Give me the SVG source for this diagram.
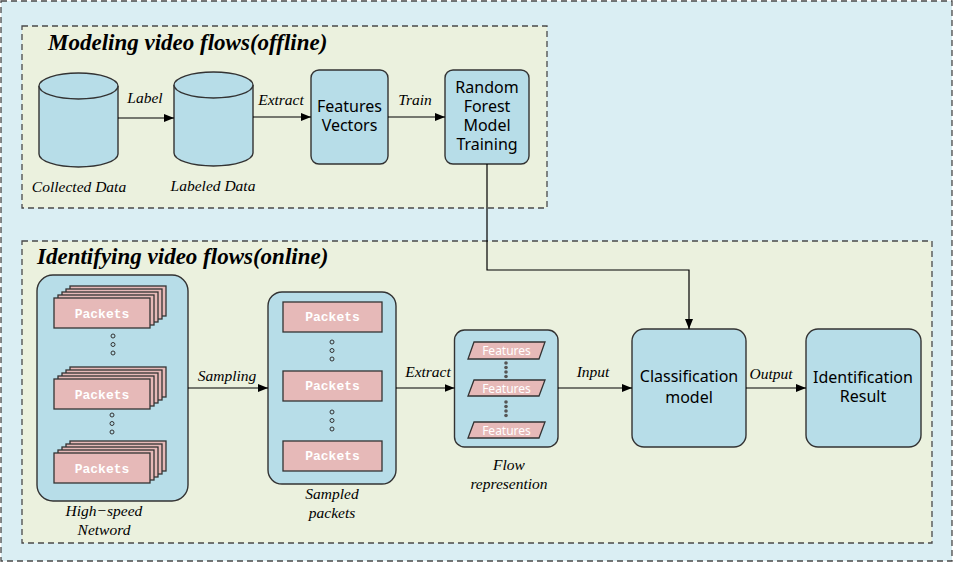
<svg xmlns="http://www.w3.org/2000/svg" width="954" height="563" viewBox="0 0 954 563">
<defs>
<style>
.frame{fill:#DAEEF3;stroke:#4a4a4a;stroke-width:1.3;stroke-dasharray:6,4}
.panel{fill:#EBF1DE;stroke:#4a4a4a;stroke-width:1.3;stroke-dasharray:6,4}
.node{fill:#B7DDE8;stroke:#333;stroke-width:1.4}
.pk{fill:#E6B9B8;stroke:#333;stroke-width:1.3}
.title{font-family:"Liberation Serif",serif;font-weight:bold;font-style:italic;fill:#000}
.lab{font-family:"Liberation Serif",serif;font-style:italic;font-size:15.5px;fill:#000;text-anchor:middle}
.bt{font-family:"Noto Sans","Open Sans",sans-serif;font-size:16px;fill:#000;text-anchor:middle}
.pt{font-family:"Liberation Mono",monospace;font-weight:bold;font-size:13px;fill:#fff;text-anchor:middle}
.ft{font-family:"Noto Sans","Open Sans",sans-serif;font-size:12px;fill:#fff;text-anchor:middle}
.conn{fill:none;stroke:#000;stroke-width:1.2}
.hd{fill:none;stroke:#333;stroke-width:1}
.sd{fill:#555}
</style>
<marker id="arr" viewBox="0 0 10 10" refX="10" refY="5" markerWidth="10" markerHeight="10" markerUnits="userSpaceOnUse" orient="auto">
<path d="M0,1 L10,5 L0,9 Z" fill="#000"/>
</marker>
<g id="stack">
<rect class="pk" x="16" y="-12" width="96" height="30"/>
<rect class="pk" x="12" y="-9" width="96" height="30"/>
<rect class="pk" x="8" y="-6" width="96" height="30"/>
<rect class="pk" x="4" y="-3" width="96" height="30"/>
<rect class="pk" x="0" y="0" width="96" height="30"/>
<text class="pt" x="48" y="20">Packets</text>
</g>
</defs>

<rect class="frame" x="1" y="1" width="951" height="560"/>

<g id="offline-panel">
<rect class="panel" x="22" y="26" width="525" height="182"/>
<text class="title" x="48" y="50" font-size="23">Modeling video flows(offline)</text>
</g>

<g id="online-panel">
<rect class="panel" x="22" y="241" width="910" height="302"/>
<text class="title" x="37" y="264" font-size="23">Identifying video flows(online)</text>
</g>

<g id="collected-data">
<path class="node" d="M39,86 L39,154 A39.5,13 0 0 0 118,154 L118,86"/>
<ellipse class="node" cx="78.5" cy="86" rx="39.5" ry="13"/>
<text class="lab" x="79" y="192">Collected Data</text>
</g>

<g id="labeled-data">
<path class="node" d="M174,85 L174,153 A39.5,13 0 0 0 253,153 L253,85"/>
<ellipse class="node" cx="213.5" cy="85" rx="39.5" ry="13"/>
<text class="lab" x="213" y="191">Labeled Data</text>
</g>

<g id="features-vectors">
<rect class="node" x="311" y="70" width="77" height="94" rx="8"/>
<text class="bt" x="349.5" y="112">Features</text>
<text class="bt" x="349.5" y="131">Vectors</text>
</g>

<g id="rf-training">
<rect class="node" x="445" y="70" width="84" height="94" rx="8"/>
<text class="bt" x="487" y="93">Random</text>
<text class="bt" x="487" y="112">Forest</text>
<text class="bt" x="487" y="131">Model</text>
<text class="bt" x="487" y="150">Training</text>
</g>

<g id="high-speed-network">
<rect class="node" x="37" y="275" width="151" height="226" rx="16"/>
<use href="#stack" x="54" y="298"/>
<use href="#stack" x="54" y="379"/>
<use href="#stack" x="54" y="453"/>
<circle class="hd" cx="113" cy="336" r="2"/>
<circle class="hd" cx="113" cy="344.5" r="2"/>
<circle class="hd" cx="113" cy="353" r="2"/>
<circle class="hd" cx="112" cy="415" r="2"/>
<circle class="hd" cx="112" cy="423.5" r="2"/>
<circle class="hd" cx="112" cy="432" r="2"/>
<text class="lab" x="104" y="516">High−speed</text>
<text class="lab" x="104" y="535">Netword</text>
</g>

<g id="sampled-packets">
<rect class="node" x="268" y="292" width="128" height="192" rx="14"/>
<rect class="pk" x="283" y="302" width="99" height="30"/>
<text class="pt" x="332.5" y="321">Packets</text>
<rect class="pk" x="283" y="371" width="99" height="30"/>
<text class="pt" x="332.5" y="390">Packets</text>
<rect class="pk" x="283" y="441" width="99" height="30"/>
<text class="pt" x="332.5" y="460">Packets</text>
<circle class="hd" cx="332" cy="342" r="2"/>
<circle class="hd" cx="332" cy="350.5" r="2"/>
<circle class="hd" cx="332" cy="359" r="2"/>
<circle class="hd" cx="332" cy="412" r="2"/>
<circle class="hd" cx="332" cy="420.5" r="2"/>
<circle class="hd" cx="332" cy="429" r="2"/>
<text class="lab" x="332" y="499">Sampled</text>
<text class="lab" x="332" y="518">packets</text>
</g>

<g id="flow-representation">
<rect class="node" x="454.5" y="330" width="103.5" height="117" rx="10"/>
<polygon class="pk" points="474,342 545,342 539,359 468,359"/>
<text class="ft" x="506.5" y="355">Features</text>
<polygon class="pk" points="474,380 545,380 539,396 468,396"/>
<text class="ft" x="506.5" y="392.5">Features</text>
<polygon class="pk" points="474,422 545,422 539,438 468,438"/>
<text class="ft" x="506.5" y="434.5">Features</text>
<circle class="sd" cx="506" cy="363" r="1.8"/>
<circle class="sd" cx="506" cy="367.5" r="1.8"/>
<circle class="sd" cx="506" cy="372" r="1.8"/>
<circle class="sd" cx="506" cy="376.5" r="1.8"/>
<circle class="sd" cx="506" cy="402" r="1.8"/>
<circle class="sd" cx="506" cy="406.5" r="1.8"/>
<circle class="sd" cx="506" cy="411" r="1.8"/>
<circle class="sd" cx="506" cy="415.5" r="1.8"/>
<text class="lab" x="509" y="470">Flow</text>
<text class="lab" x="509" y="489">represention</text>
</g>

<g id="classification-model">
<rect class="node" x="632" y="329" width="114" height="118" rx="12"/>
<text class="bt" x="689" y="382" font-size="17">Classification</text>
<text class="bt" x="689" y="403" font-size="17">model</text>
</g>

<g id="identification-result">
<rect class="node" x="806" y="329" width="115" height="118" rx="12"/>
<text class="bt" x="863" y="383" font-size="17">Identification</text>
<text class="bt" x="863" y="402" font-size="17">Result</text>
</g>

<g id="connectors">
<line class="conn" x1="118" y1="118" x2="174" y2="118" marker-end="url(#arr)"/>
<text class="lab" x="145" y="103">Label</text>
<line class="conn" x1="253" y1="117" x2="311" y2="117" marker-end="url(#arr)"/>
<text class="lab" x="281" y="105">Extract</text>
<line class="conn" x1="388" y1="117" x2="445" y2="117" marker-end="url(#arr)"/>
<text class="lab" x="415" y="105">Train</text>
<polyline class="conn" points="487,164 487,270 689,270 689,329" marker-end="url(#arr)"/>
<line class="conn" x1="188" y1="388" x2="268" y2="388" marker-end="url(#arr)"/>
<text class="lab" x="227" y="381">Sampling</text>
<line class="conn" x1="396" y1="388" x2="454.5" y2="388" marker-end="url(#arr)"/>
<text class="lab" x="428" y="377">Extract</text>
<line class="conn" x1="558" y1="388" x2="632" y2="388" marker-end="url(#arr)"/>
<text class="lab" x="593" y="377">Input</text>
<line class="conn" x1="746" y1="388" x2="806" y2="388" marker-end="url(#arr)"/>
<text class="lab" x="771" y="379">Output</text>
</g>
</svg>
